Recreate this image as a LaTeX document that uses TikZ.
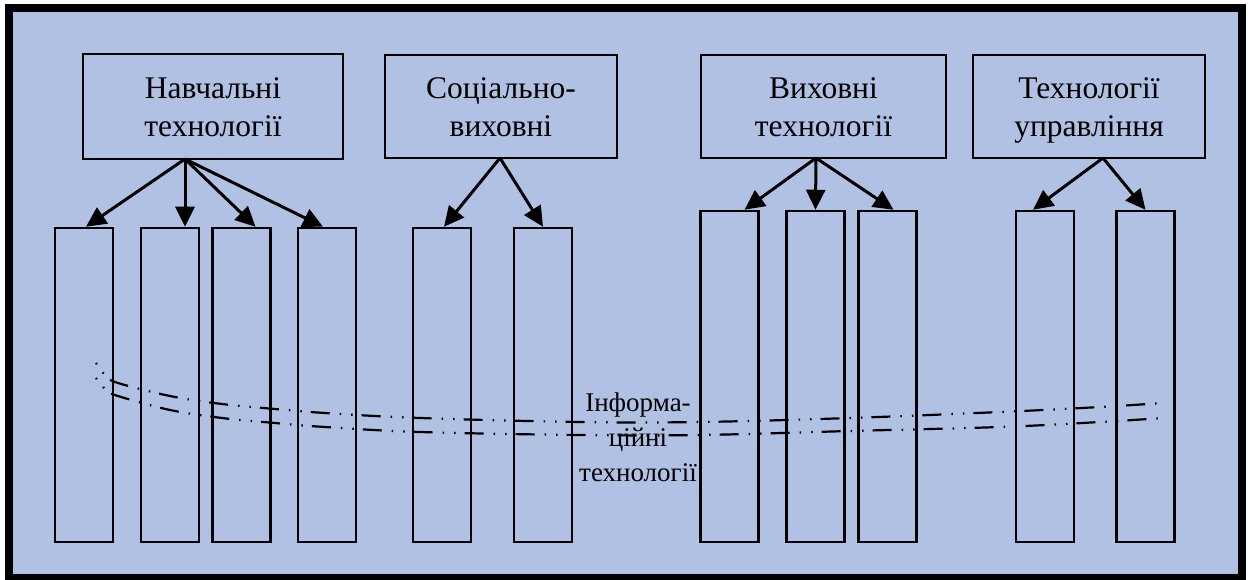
\documentclass[tikz,border=0pt]{standalone}
\usepackage{fontspec}
\setmainfont{Liberation Serif}
\usetikzlibrary{arrows.meta}
\definecolor{bgblue}{RGB}{177,193,228}
\newcommand{\topstrut}{\rule{0pt}{30pt}}
\newcommand{\botstrut}{\rule[-7pt]{0pt}{7pt}}
\begin{document}
\begin{tikzpicture}[x=1pt,y=-1pt,
  topbox/.style={draw, line width=2.5pt, inner sep=0pt, align=center,
    font=\fontsize{31.5}{38}\selectfont},
  col/.style={draw, line width=2.5pt, inner sep=0pt, minimum width=58pt},
  colL/.style={col, minimum height=314pt},
  colR/.style={col, minimum height=331pt},
  arr/.style={line width=3pt, -{Triangle[length=20pt,width=19pt]}},
  infoline/.style={line width=2.2pt, dash pattern=on 1.5pt off 10pt on 1.5pt off 9pt on 19pt off 10pt},
  infotext/.style={align=center, inner sep=0pt, font=\fontsize{27}{35}\selectfont}
]
\useasboundingbox (0,0) rectangle (1251,580);
\fill[white] (0,0) rectangle (1251,580);
\draw[line width=8pt, fill=bgblue] (9,8.5) rectangle (1242,578);

% top boxes
\node[topbox, minimum width=260pt, minimum height=105pt] (b1) at (213,106.5) {\topstrut Навчальні\\технології\botstrut};
\node[topbox, minimum width=232pt, minimum height=103pt] (b2) at (501,106.5) {\topstrut Соціально-\\виховні\botstrut};
\node[topbox, minimum width=245pt, minimum height=103pt] (b3) at (823.5,106.5) {\topstrut Виховні\\технології\botstrut};
\node[topbox, minimum width=232pt, minimum height=103pt] (b4) at (1089,106.5) {\topstrut Технології\\управління\botstrut};

% columns
\node[colL] (r1) at (84,385) {};
\node[colL] (r2) at (170,385) {};
\node[colL] (r3) at (241.5,385) {};
\node[colL] (r4) at (327,385) {};
\node[colL] (r5) at (442,385) {};
\node[colL] (r6) at (543,385) {};
\node[colR] (r7) at (729.5,376.5) {};
\node[colR] (r8) at (815.5,376.5) {};
\node[colR] (r9) at (887.5,376.5) {};
\node[colR] (r10) at (1045,376.5) {};
\node[colR] (r11) at (1145.5,376.5) {};

% arrows
\coordinate (o1) at (185,159);
\coordinate (o2) at (500,158);
\coordinate (o3) at (816,158);
\coordinate (o4) at (1103,158);
\draw[arr] (o1) -- ([xshift=2pt]r1.north);
\draw[arr] (o1) -- ([xshift=15pt]r2.north);
\draw[arr] (o1) -- ([xshift=14pt]r3.north);
\draw[arr] (o1) -- ([xshift=-4pt]r4.north);
\draw[arr] (o2) -- ([xshift=2pt]r5.north);
\draw[arr] (o2) -- (r6.north);
\draw[arr] (o3) -- ([xshift=15pt]r7.north);
\draw[arr] (o3) -- (r8.north);
\draw[arr] (o3) -- ([xshift=6pt]r9.north);
\draw[arr] (o4) -- ([xshift=-12pt]r10.north);
\draw[arr] (o4) -- (r11.north);

% information technologies band
\draw[infoline] plot[smooth, tension=0.6] coordinates {(96,363) (106,376) (118,383) (170,396) (222,404) (275,409) (325,413) (420,418) (580,422) (700,422) (850,418) (1000,412) (1100,407) (1163,403)};
\draw[infoline] plot[smooth, tension=0.6] coordinates {(96,378) (106,390) (118,396) (170,410) (222,418) (275,423) (325,427) (420,432) (580,435) (700,435) (850,431) (1000,427) (1100,422) (1163,418)};

\node[infotext] (it) at (638,437) {Інформа-\\ційні\\технології};
\end{tikzpicture}
\end{document}
